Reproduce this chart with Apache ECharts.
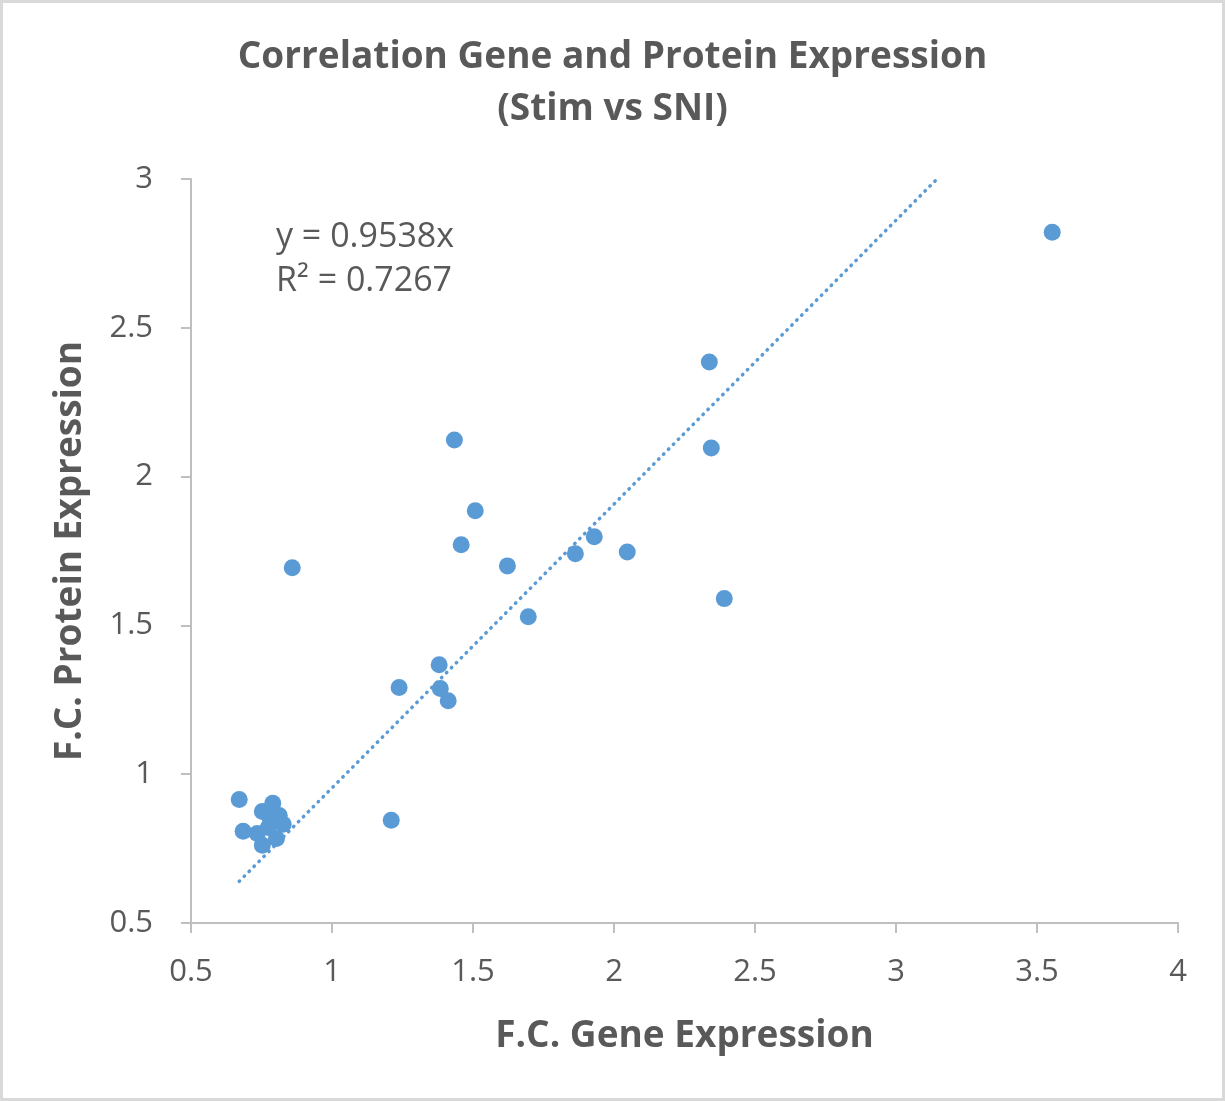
<!DOCTYPE html>
<html>
<head>
<meta charset="utf-8">
<script src="https://cdn.jsdelivr.net/npm/echarts@6/dist/echarts.min.js"></script>
<style>
html,body{margin:0;padding:0;background:#fff;}
#frame{width:1225px;height:1101px;box-sizing:border-box;border:3px solid #d9d9d9;position:relative;}
#chart{position:absolute;left:-3px;top:-3px;width:1225px;height:1101px;}
</style>
</head>
<body>
<div id="frame"><div id="chart"></div></div>
<script>
const titleText = 'Correlation Gene and Protein Expression\n(Stim vs SNI)';
const xName = 'F.C. Gene Expression';
const yName = 'F.C. Protein Expression';
const geneFC = [3.554, 2.338, 2.345, 2.391, 1.434, 1.508, 1.458, 1.622, 1.863, 1.930, 2.047, 1.696, 0.859, 1.380, 1.238, 1.384, 1.412, 1.210, 0.671, 0.685,
  0.790, 0.753, 0.813, 0.827, 0.803, 0.753, 0.735, 0.774, 0.781];
const proteinFC = [2.821, 2.385, 2.096, 1.590, 2.123, 1.885, 1.771, 1.700, 1.741, 1.798, 1.747, 1.529, 1.694, 1.368, 1.291, 1.288, 1.247, 0.845, 0.915, 0.808,
  0.902, 0.875, 0.861, 0.832, 0.784, 0.761, 0.801, 0.821, 0.851];
const slope = 0.9538;
const equationLines = ['y = 0.9538x', 'R² = 0.7267'];
const xMin = 0.5, xMax = 4, yMin = 0.5, yMax = 3, tickStep = 0.5;

const points = geneFC.map((g, i) => [g, proteinFC[i]]);
const xLo = Math.min(...geneFC);
const xHi = Math.min(Math.max(...geneFC), yMax / slope);
const trend = [[xLo, slope * xLo], [xHi, slope * xHi]];

const chart = echarts.init(document.getElementById('chart'));
const textColor = '#595959';
const font = '"Open Sans", "Noto Sans", sans-serif';
chart.setOption({
  backgroundColor: 'transparent',
  animation: false,
  title: {
    text: titleText, left: 'center', top: 26,
    textStyle: {fontFamily: font, fontSize: 37, fontWeight: 'bold', color: textColor, lineHeight: 52}
  },
  grid: {left: 191, right: 47, top: 179, bottom: 178},
  xAxis: {
    type: 'value', min: xMin, max: xMax, interval: tickStep,
    name: xName, nameLocation: 'middle', nameGap: 95,
    nameTextStyle: {fontFamily: font, fontSize: 37, fontWeight: 'bold', color: textColor},
    axisLine: {show: true, lineStyle: {color: '#bfbfbf', width: 2}},
    axisTick: {show: true, inside: false, length: 10, lineStyle: {color: '#bfbfbf', width: 2}},
    axisLabel: {fontFamily: font, fontSize: 31, color: textColor, margin: 34, formatter: v => String(+v.toFixed(2))},
    splitLine: {show: false}
  },
  yAxis: {
    type: 'value', min: yMin, max: yMax, interval: tickStep,
    name: yName, nameLocation: 'middle', nameGap: 102,
    nameTextStyle: {fontFamily: font, fontSize: 37, fontWeight: 'bold', color: textColor},
    axisLine: {show: true, lineStyle: {color: '#bfbfbf', width: 2}},
    axisTick: {show: true, inside: false, length: 10, lineStyle: {color: '#bfbfbf', width: 2}},
    axisLabel: {fontFamily: font, fontSize: 31, color: textColor, margin: 38, formatter: v => String(+v.toFixed(2))},
    splitLine: {show: false}
  },
  graphic: [{
    type: 'text', left: 276, top: 215,
    style: {text: equationLines.join('\n'), fontFamily: font, fontSize: 34, fill: textColor, lineHeight: 44}
  }],
  series: [{
    type: 'line', data: trend, showSymbol: false, symbol: 'none', silent: true,
    lineStyle: {color: '#5B9BD5', width: 3.5, type: [0.5, 6.5], cap: 'round'}, z: 1
  }, {
    type: 'scatter', data: points, symbolSize: 17,
    itemStyle: {color: '#5B9BD5', opacity: 1}, z: 2
  }]
});
</script>
</body>
</html>
